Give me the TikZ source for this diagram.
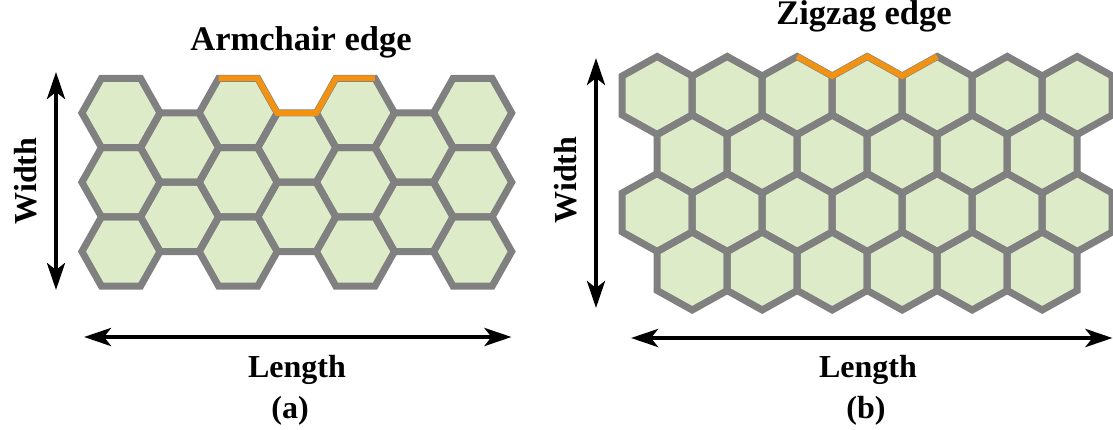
\documentclass[tikz,border=0pt]{standalone}
\usepackage{fontspec}
\setmainfont{Liberation Serif}
\usetikzlibrary{arrows.meta}

\definecolor{hexfill}{RGB}{222,235,200}
\definecolor{hexline}{RGB}{128,128,128}
\definecolor{edgeorange}{RGB}{242,146,18}

\tikzset{
  cellline/.style={draw=hexline, line width=7pt},
  cellfill/.style={fill=hexfill},
  edgeline/.style={draw=edgeorange, line width=5.8pt},
  dimarrow/.style={line width=4.3pt,
    {Stealth[length=27pt,width=18pt,inset=7pt]}-{Stealth[length=27pt,width=18pt,inset=7pt]}},
  lbl/.style={font=\fontsize{32}{36}\selectfont\bfseries, inner sep=0pt},
  ttl/.style={font=\fontsize{34.5}{38}\selectfont\bfseries, inner sep=0pt}
}

% flat-topped cell (armchair ribbon)
\newcommand\hexA[3]{\path[#1, shift={(#2,#3)}]
  (39.07,0) -- (19.53,34.65) -- (-19.53,34.65) -- (-39.07,0)
  -- (-19.53,-34.65) -- (19.53,-34.65) -- cycle;}
% pointy-topped cell (zigzag ribbon)
\newcommand\hexB[3]{\path[#1, shift={(#2,#3)}]
  (0,-39) -- (35,-19.5) -- (35,19.5) -- (0,39)
  -- (-35,19.5) -- (-35,-19.5) -- cycle;}

\begin{document}
\begin{tikzpicture}[x=1pt, y=-1pt]
\useasboundingbox (0,0) rectangle (1113,430);
\clip (0,0) rectangle (1113,430);

% ---------- (a) armchair ribbon ----------
\foreach \sty in {cellfill,cellline}{
  \foreach \c in {0,2,4,6}{\foreach \r in {0,1,2}{
    \pgfmathsetmacro\cx{121+58.6*\c}\pgfmathsetmacro\cy{112.95+69.3*\r}
    \hexA{\sty}{\cx}{\cy}}}
  \foreach \c in {1,3,5}{\foreach \r in {0,1}{
    \pgfmathsetmacro\cx{121+58.6*\c}\pgfmathsetmacro\cy{147.6+69.3*\r}
    \hexA{\sty}{\cx}{\cy}}}
}
\draw[edgeline] (218.7,78.3) -- (257.7,78.3) -- (277.3,112.95) -- (316.3,112.95)
  -- (335.9,78.3) -- (374.9,78.3);

\node[ttl, anchor=base] (titleA) at (301,51) {Armchair edge};
\coordinate (wAtop) at (56,72);
\coordinate (wAbot) at (56,290);
\draw[dimarrow] (wAtop) -- (wAbot);
\node[lbl, rotate=90, anchor=base] (widthA) at (36.7,181) {Width};
\coordinate (lAleft) at (84,337);
\coordinate (lAright) at (511.5,337);
\draw[dimarrow] (lAleft) -- (lAright);
\node[lbl, anchor=base] (lengthA) at (297,377) {Length};
\node[lbl, anchor=base] (capA) at (290,418) {(a)};

% ---------- (b) zigzag ribbon ----------
\foreach \sty in {cellfill,cellline}{
  \foreach \r in {0,2}{\foreach \k in {0,...,6}{
    \pgfmathsetmacro\cx{657.2+70*\k}\pgfmathsetmacro\cy{95.5+58.5*\r}
    \hexB{\sty}{\cx}{\cy}}}
  \foreach \r in {1,3}{\foreach \k in {0,...,5}{
    \pgfmathsetmacro\cx{692.2+70*\k}\pgfmathsetmacro\cy{95.5+58.5*\r}
    \hexB{\sty}{\cx}{\cy}}}
}
\draw[edgeline] (797.2,56.5) -- (832.2,76) -- (867.2,56.5) -- (902.2,76) -- (937.2,56.5);

\node[ttl, anchor=base] (titleB) at (864,25) {Zigzag edge};
\coordinate (wBtop) at (596,58);
\coordinate (wBbot) at (596,308);
\draw[dimarrow] (wBtop) -- (wBbot);
\node[lbl, rotate=90, anchor=base] (widthB) at (576.7,180) {Width};
\coordinate (lBleft) at (631,338);
\coordinate (lBright) at (1112.5,338);
\draw[dimarrow] (lBleft) -- (lBright);
\node[lbl, anchor=base] (lengthB) at (868,377) {Length};
\node[lbl, anchor=base] (capB) at (866,418) {(b)};
\end{tikzpicture}
\end{document}
